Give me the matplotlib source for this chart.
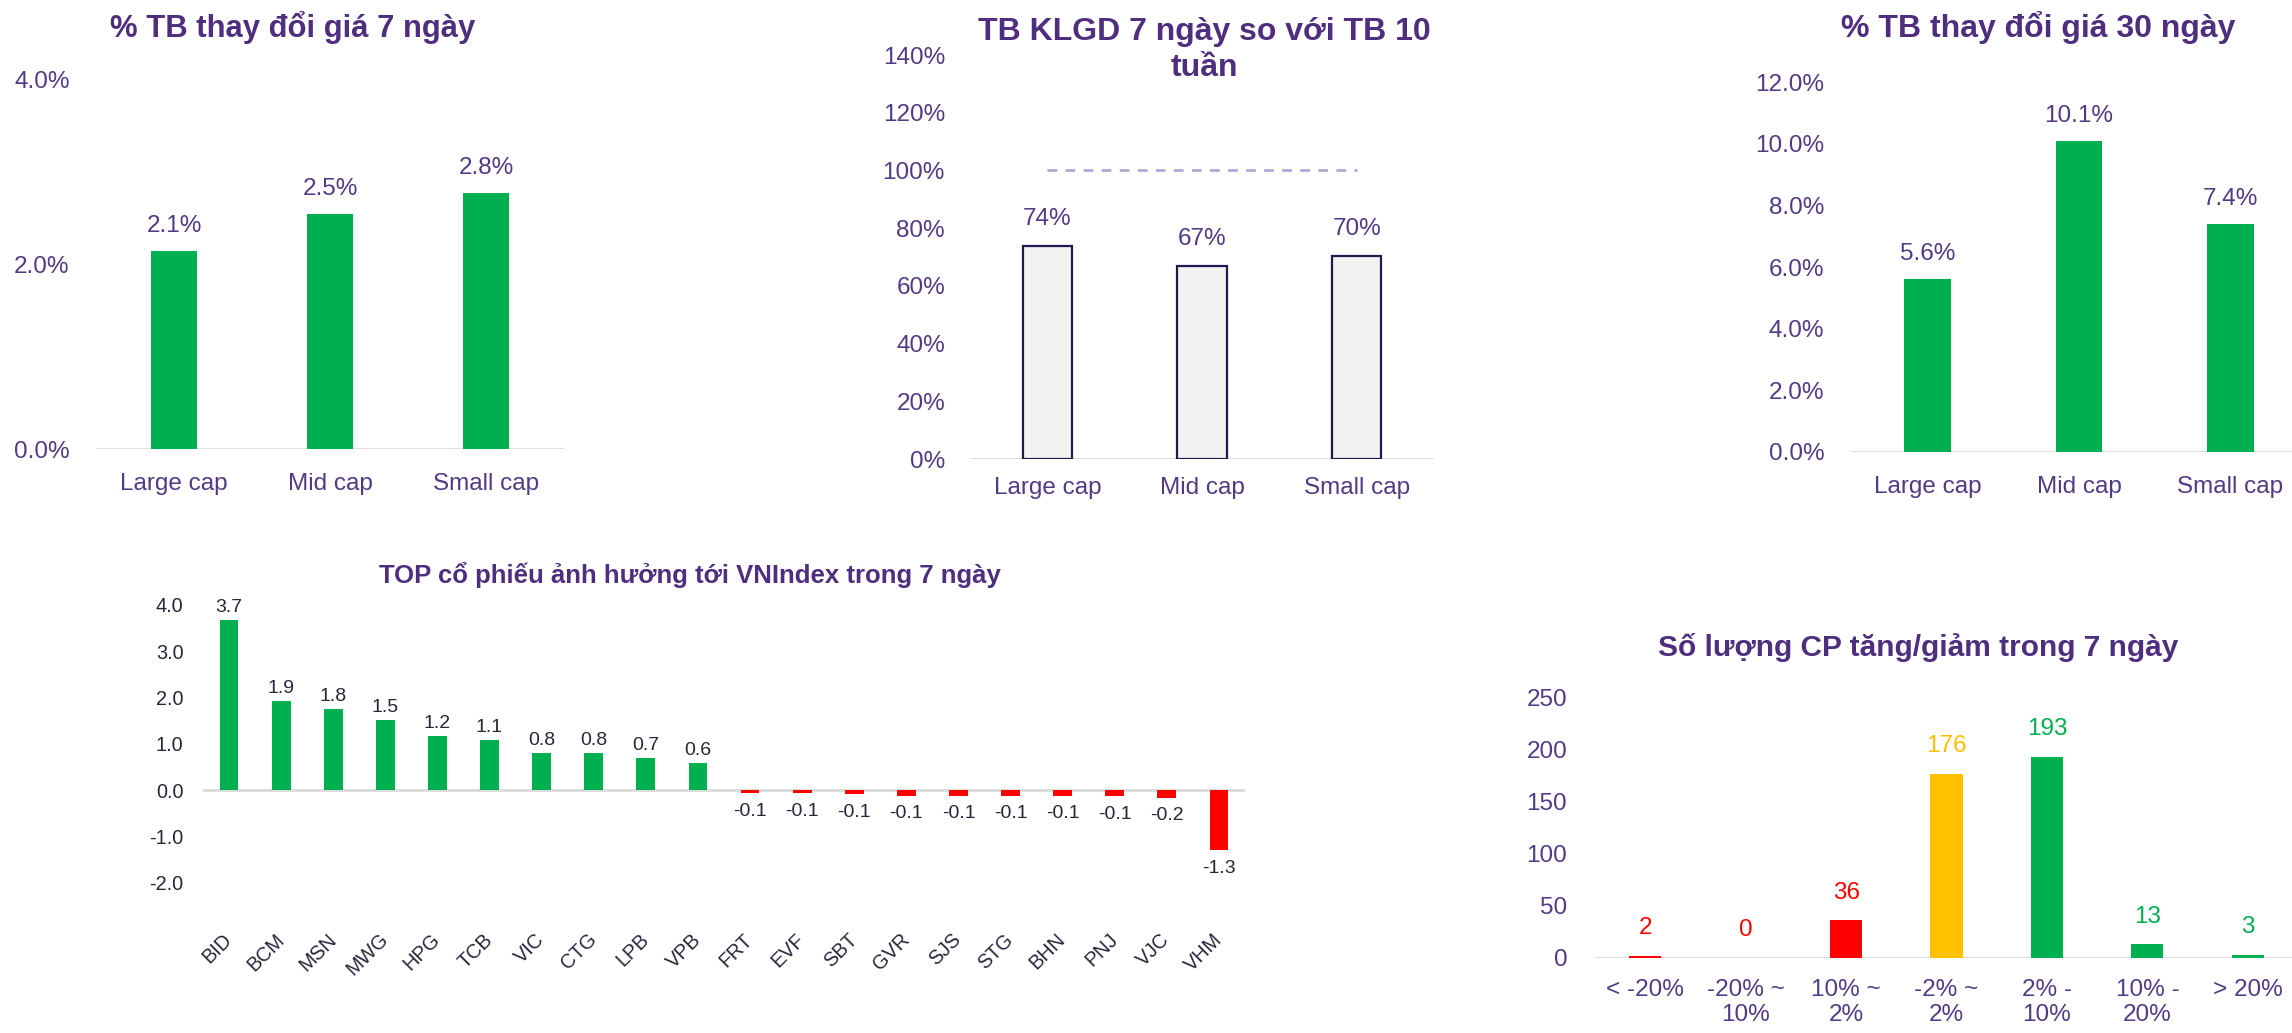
import matplotlib
matplotlib.use("Agg")
import matplotlib.pyplot as plt
from matplotlib.ticker import FuncFormatter

plt.rcParams['font.family'] = ['Liberation Sans', 'DejaVu Sans']

PURPLE = "#4f2d7f"
TICK = "#523a84"
GREEN = "#00b050"
RED = "#ff0000"
YELLOW = "#ffc000"
AXLINE = "#d9d9d9"
DARK = "#26263a"

# data
caps = ["Large cap", "Mid cap", "Small cap"]
chg_7d = [2.15, 2.55, 2.78]        # %
vol_ratio = [73.8, 67.0, 70.4]     # % of 10-week avg
chg_30d = [5.62, 10.1, 7.4]        # %

tickers = ["BID", "BCM", "MSN", "MWG", "HPG", "TCB", "VIC", "CTG", "LPB", "VPB",
           "FRT", "EVF", "SBT", "GVR", "SJS", "STG", "BHN", "PNJ", "VJC", "VHM"]
impact = [3.68, 1.92, 1.76, 1.52, 1.17, 1.08, 0.80, 0.80, 0.69, 0.58,
          -0.07, -0.07, -0.09, -0.12, -0.12, -0.12, -0.12, -0.14, -0.17, -1.30]

bins = ["< -20%", "-20% ~\n10%", "10% ~\n2%", "-2% ~\n2%", "2% -\n10%", "10% -\n20%", "> 20%"]
counts = [2, 0, 36, 176, 193, 13, 3]
bin_colors = [RED, RED, RED, YELLOW, GREEN, GREEN, GREEN]

W, H = 2292, 1033
fig = plt.figure(figsize=(W / 100, H / 100), dpi=100)


def add_ax(x0, x1, ytop, ybot):
    return fig.add_axes([x0 / W, 1 - ybot / H, (x1 - x0) / W, (ybot - ytop) / H])


def clean(ax, color, size, ypad, xpad):
    for s in ax.spines.values():
        s.set_visible(False)
    ax.tick_params(length=0, labelsize=size, colors=color)
    ax.tick_params(axis="y", pad=ypad)
    ax.tick_params(axis="x", pad=xpad)
    ax.axhline(0, color=AXLINE, lw=2, zorder=1)


# chart 1
ax1 = add_ax(96, 564, 80, 449)
ax1.bar(range(3), chg_7d, width=0.3, color=GREEN, zorder=2)
ax1.set_xlim(-0.5, 2.5)
ax1.set_ylim(0, 4)
ax1.set_yticks([0, 2, 4])
ax1.yaxis.set_major_formatter(FuncFormatter(lambda v, p: f"{v:.1f}%"))
ax1.set_xticks(range(3))
ax1.set_xticklabels(caps)
clean(ax1, TICK, 17.5, 19, 17)
for i, v in enumerate(chg_7d):
    ax1.annotate(f"{v:.1f}%", (i, v), xytext=(0, 18), textcoords="offset points",
                 ha="center", va="center", fontsize=17.5, color=TICK)
fig.text(293 / W, 1 - 28 / H, "% TB thay đổi giá 7 ngày", ha="center", va="center",
         fontsize=22.3, fontweight="bold", color=PURPLE)

# chart 2
ax2 = add_ax(970, 1434, 55, 459)
ax2.bar(range(3), vol_ratio, width=0.32, color="#f2f2f2", edgecolor="#1f1a4d",
        linewidth=1.6, zorder=2)
ax2.plot([0, 2], [100, 100], color="#b4a7d6", lw=2, linestyle=(0, (3.5, 3)), zorder=2)
ax2.set_xlim(-0.5, 2.5)
ax2.set_ylim(0, 140)
ax2.set_yticks(range(0, 141, 20))
ax2.yaxis.set_major_formatter(FuncFormatter(lambda v, p: f"{v:.0f}%"))
ax2.set_xticks(range(3))
ax2.set_xticklabels(caps)
clean(ax2, TICK, 17.5, 18, 13)
for i, v in enumerate(vol_ratio):
    ax2.annotate(f"{v:.0f}%", (i, v), xytext=(0, 19.5), textcoords="offset points",
                 ha="center", va="center", fontsize=17.5, color=TICK)
fig.text(1204 / W, 1 - 50 / H, "TB KLGD 7 ngày so với TB 10\ntuần", ha="center",
         va="center", fontsize=23, fontweight="bold", color=PURPLE, linespacing=1.3)

# chart 3
ax3 = add_ax(1852, 2306, 82, 452)
ax3.bar(range(3), chg_30d, width=0.31, color=GREEN, zorder=2)
ax3.set_xlim(-0.5, 2.5)
ax3.set_ylim(0, 12)
ax3.set_yticks(range(0, 13, 2))
ax3.yaxis.set_major_formatter(FuncFormatter(lambda v, p: f"{v:.1f}%"))
ax3.set_xticks(range(3))
ax3.set_xticklabels(caps)
clean(ax3, TICK, 17.5, 20, 17)
for i, v in enumerate(chg_30d):
    ax3.annotate(f"{v:.1f}%", (i, v), xytext=(0, 18), textcoords="offset points",
                 ha="center", va="center", fontsize=17.5, color=TICK)
fig.text(2038 / W, 1 - 28 / H, "% TB thay đổi giá 30 ngày", ha="center", va="center",
         fontsize=23, fontweight="bold", color=PURPLE)

# chart 4
ax4 = add_ax(203, 1245, 605, 882.5)
colors4 = [GREEN if v >= 0 else RED for v in impact]
ax4.bar(range(len(tickers)), impact, width=0.36, color=colors4, zorder=2)
ax4.set_xlim(-0.5, len(tickers) - 0.5)
ax4.set_ylim(-2, 4)
ax4.set_yticks(range(-2, 5))
ax4.yaxis.set_major_formatter(FuncFormatter(lambda v, p: f"{v:.1f}"))
ax4.set_xticks(range(len(tickers)))
ax4.set_xticklabels(tickers, rotation=45, ha="right", va="center", rotation_mode="anchor")
clean(ax4, DARK, 14.3, 14, 39)
for i, v in enumerate(impact):
    off = 9 if v >= 0 else -13
    ax4.annotate(f"{v:.1f}", (i, v), xytext=(0, off), textcoords="offset points",
                 ha="center", va="center", fontsize=14, color=DARK)
fig.text(690 / W, 1 - 575 / H, "TOP cổ phiếu ảnh hưởng tới VNIndex trong 7 ngày",
         ha="center", va="center", fontsize=18.5, fontweight="bold", color=PURPLE)

# chart 5
ax5 = add_ax(1595, 2298, 697, 958)
ax5.bar(range(len(bins)), counts, width=0.32, color=bin_colors, zorder=2)
ax5.set_xlim(-0.5, len(bins) - 0.5)
ax5.set_ylim(0, 250)
ax5.set_yticks(range(0, 251, 50))
ax5.set_xticks(range(len(bins)))
ax5.set_xticklabels(bins)
clean(ax5, TICK, 17.5, 20, 15)
for i, v in enumerate(counts):
    ax5.annotate(f"{v}", (i, v), xytext=(0, 20), textcoords="offset points",
                 ha="center", va="center", fontsize=17.5, color=bin_colors[i])
fig.text(1918 / W, 1 - 648 / H, "Số lượng CP tăng/giảm trong 7 ngày", ha="center",
         va="center", fontsize=21.5, fontweight="bold", color=PURPLE)

fig.savefig("out.png", dpi=100)
